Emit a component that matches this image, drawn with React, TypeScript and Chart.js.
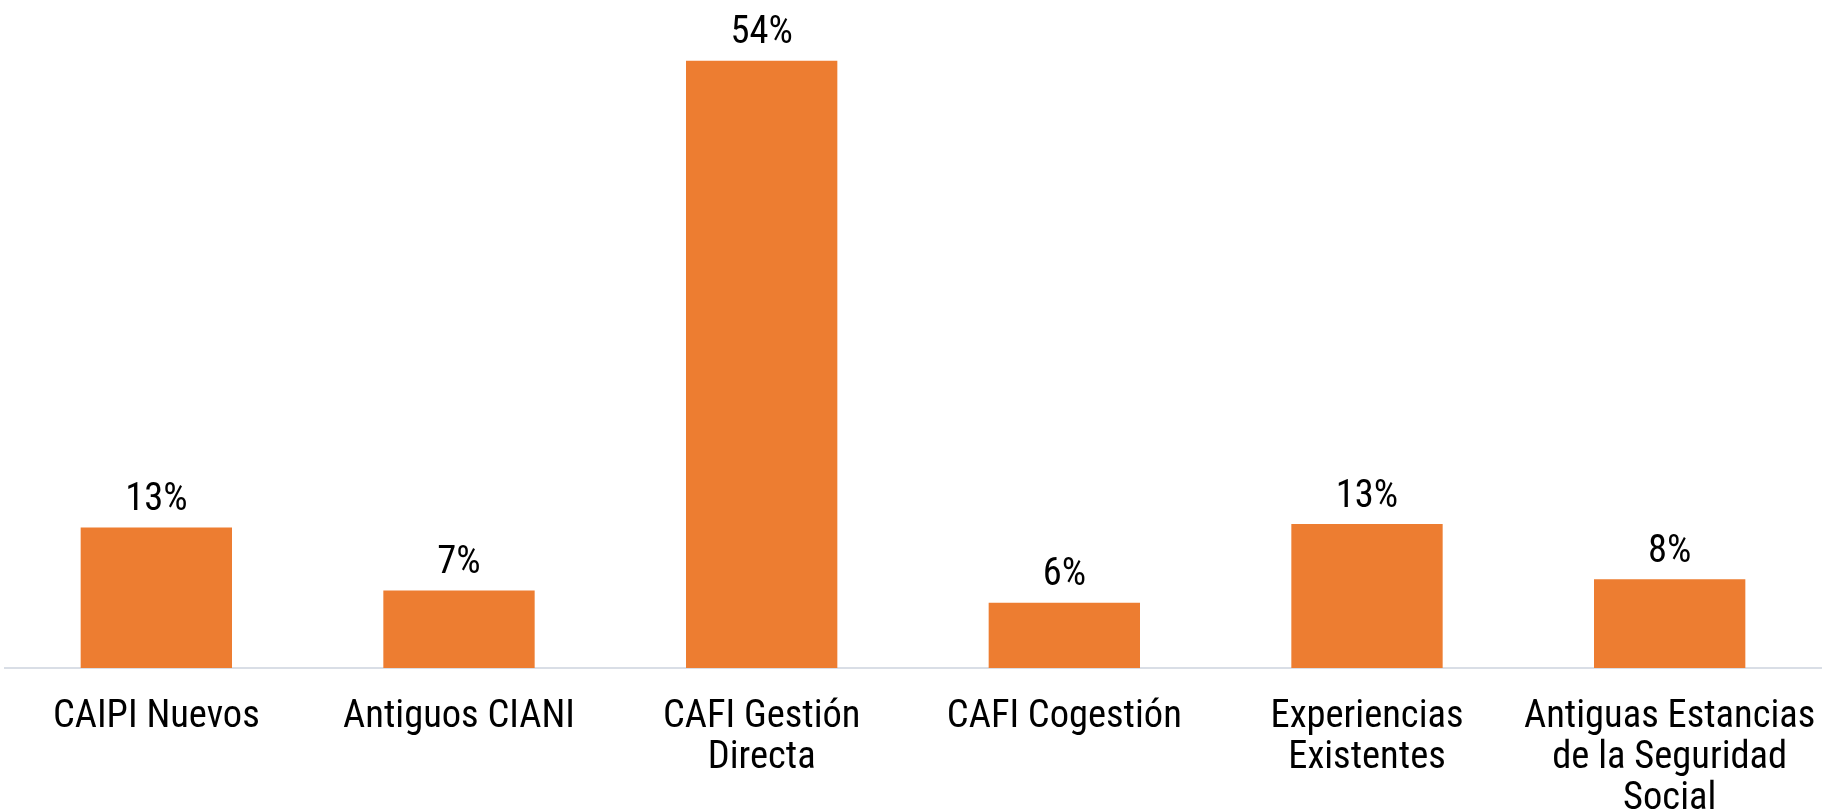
import React, { useEffect, useRef } from "react";
import { Chart, registerables } from "chart.js";

Chart.register(...registerables);

const categories: (string | string[])[] = [
  "CAIPI Nuevos",
  "Antiguos CIANI",
  ["CAFI Gestión", "Directa"],
  "CAFI Cogestión",
  ["Experiencias", "Existentes"],
  ["Antiguas Estancias", "de la Seguridad", "Social"],
];
const shares: number[] = [12.5, 6.9, 54.0, 5.8, 12.8, 7.9];
const Y_MAX = 59.4;

const FONT = "'Roboto Condensed', 'DejaVu Sans Condensed', sans-serif";
const FONT_SIZE = 38.5;
const BAR_COLOR = "#ED7D31";

const valueLabels = {
  id: "valueLabels",
  afterDatasetsDraw(chart: any) {
    const ctx = chart.ctx;
    const meta = chart.getDatasetMeta(0);
    ctx.save();
    ctx.font = `${FONT_SIZE}px ${FONT}`;
    ctx.fillStyle = "#000000";
    ctx.textAlign = "center";
    ctx.textBaseline = "middle";
    meta.data.forEach((el: any, i: number) => {
      const v = chart.data.datasets[0].data[i] as number;
      ctx.fillText(`${Math.round(v)}%`, el.x, el.y - 27);
    });
    ctx.restore();
  },
};

export default function App() {
  const ref = useRef<HTMLCanvasElement | null>(null);
  useEffect(() => {
    if (!ref.current) return;
    const chart = new Chart(ref.current, {
      type: "bar",
      data: {
        labels: categories,
        datasets: [
          {
            data: shares,
            backgroundColor: BAR_COLOR,
            borderWidth: 0,
            barPercentage: 1,
            categoryPercentage: 0.5,
          },
        ],
      },
      options: {
        animation: false,
        responsive: false,
        maintainAspectRatio: false,
        layout: { padding: { left: 5, right: 4, top: 0, bottom: 0 } },
        plugins: {
          legend: { display: false },
          tooltip: { enabled: false },
        },
        scales: {
          x: {
            grid: { display: false, drawTicks: false },
            border: { display: true, color: "#D9DEE6", width: 2 },
            ticks: {
              color: "#000000",
              font: { family: FONT, size: FONT_SIZE, lineHeight: 1.06 },
              padding: 29,
              maxRotation: 0,
              autoSkip: false,
            },
            afterFit: (scale: any) => {
              scale.height = 144;
              scale.paddingLeft = 0;
              scale.paddingRight = 0;
            },
          },
          y: {
            display: false,
            min: 0,
            max: Y_MAX,
          },
        },
      },
      plugins: [valueLabels],
    });
    return () => chart.destroy();
  }, []);
  return (
    <div style={{ position: "fixed", left: 0, top: 0, width: 1825, height: 812, background: "#fff" }}>
      <canvas ref={ref} width={1825} height={812} style={{ display: "block" }} />
    </div>
  );
}
